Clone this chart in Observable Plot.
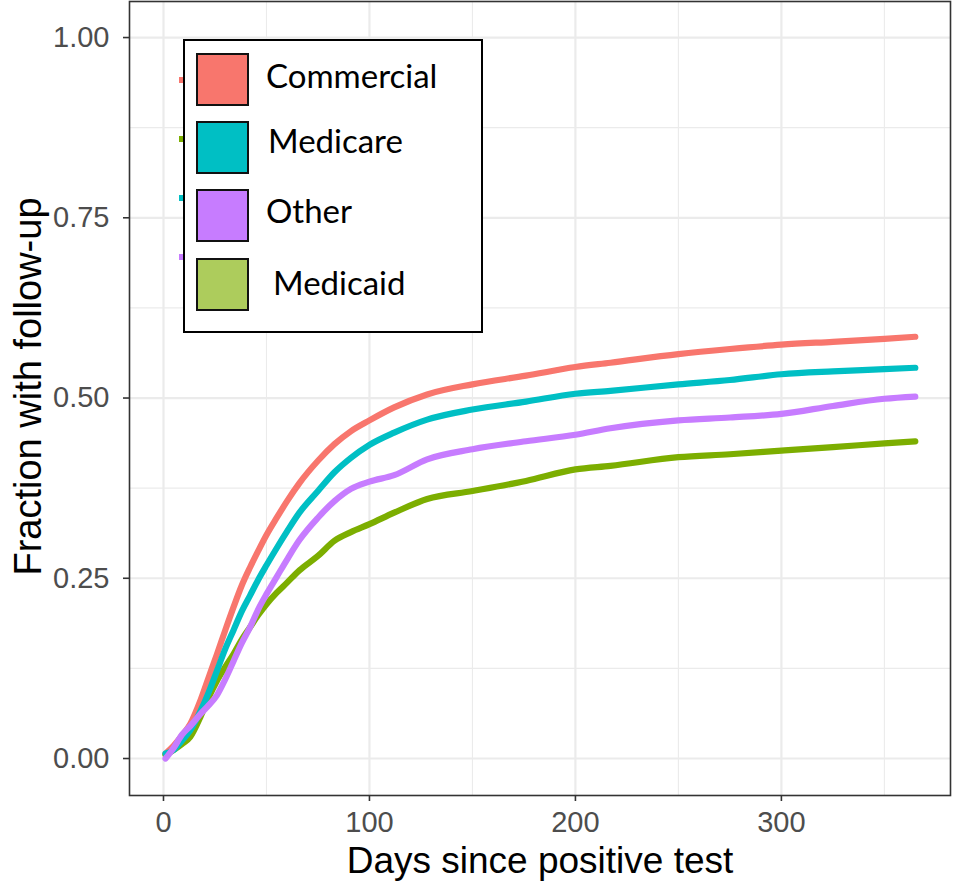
<!DOCTYPE html>
<html>
<head>
<meta charset="utf-8">
<script src="https://cdn.jsdelivr.net/npm/d3@7"></script>
<script src="https://cdn.jsdelivr.net/npm/@observablehq/plot@0.6"></script>
<style>
  html, body { margin: 0; padding: 0; background: #fff; }
  #wrap { position: relative; width: 954px; height: 886px; }
  #legend { position: absolute; left: 0; top: 0; pointer-events: none; }
</style>
</head>
<body>
<div id="wrap"></div>
<script>
// ---- data ----
const days = [1, 5, 9, 13, 18, 22, 26, 30, 34, 38, 42, 46, 50, 55, 60, 66, 75, 83, 91, 100, 112, 128, 150, 176, 200, 217, 250, 275, 300, 325, 350, 365];
const commercial = [0.007, 0.018, 0.032, 0.048, 0.081, 0.113, 0.145, 0.178, 0.210, 0.240, 0.265, 0.288, 0.310, 0.334, 0.357, 0.382, 0.413, 0.436, 0.454, 0.469, 0.487, 0.505, 0.519, 0.531, 0.543, 0.549, 0.561, 0.568, 0.574, 0.578, 0.582, 0.585];
const medicare   = [0.007, 0.012, 0.025, 0.039, 0.066, 0.092, 0.122, 0.152, 0.178, 0.204, 0.226, 0.248, 0.268, 0.292, 0.315, 0.341, 0.371, 0.397, 0.417, 0.435, 0.452, 0.470, 0.484, 0.495, 0.506, 0.510, 0.519, 0.525, 0.533, 0.537, 0.540, 0.542];
const other      = [0.000, 0.015, 0.033, 0.045, 0.062, 0.074, 0.088, 0.110, 0.135, 0.160, 0.182, 0.207, 0.228, 0.252, 0.276, 0.303, 0.334, 0.357, 0.374, 0.384, 0.393, 0.415, 0.429, 0.440, 0.449, 0.458, 0.469, 0.473, 0.478, 0.489, 0.499, 0.502];
const medicaid   = [0.005, 0.012, 0.020, 0.030, 0.058, 0.085, 0.108, 0.127, 0.145, 0.165, 0.182, 0.199, 0.214, 0.230, 0.244, 0.261, 0.281, 0.302, 0.314, 0.325, 0.341, 0.360, 0.371, 0.385, 0.401, 0.406, 0.418, 0.422, 0.427, 0.432, 0.437, 0.440];

const drawOrder    = ["Commercial", "Medicaid", "Medicare", "Other"];
const seriesColors = ["#F8766D", "#7CAE00", "#00BFC4", "#C77CFF"];
const legendOrder  = ["Commercial", "Medicare", "Other", "Medicaid"];
const legendFills  = ["#F8766D", "#00BFC4", "#C77CFF", "#ADCC5C"];

const xMajor = [0, 100, 200, 300];
const xMinor = [50, 150, 250, 350];
const yMajor = [0, 0.25, 0.5, 0.75, 1];
const yMinor = [0.125, 0.375, 0.625, 0.875];

const seriesValues = {Commercial: commercial, Medicaid: medicaid, Medicare: medicare, Other: other};
const rows = drawOrder.flatMap(g => days.map((d, i) => ({group: g, day: d, value: seriesValues[g][i]})));

const chart = Plot.plot({
  width: 954,
  height: 886,
  marginLeft: 129,
  marginRight: 4,
  marginTop: 1,
  marginBottom: 91,
  style: {fontFamily: "'Liberation Sans', Arial, sans-serif", fontSize: "29px", background: "#fff"},
  x: {domain: [-16.5, 382.1]},
  y: {domain: [-0.0513, 1.05]},
  color: {domain: drawOrder, range: seriesColors},
  marks: [
    Plot.gridX(xMinor, {stroke: "#ebebeb", strokeOpacity: 1, strokeWidth: 1.1}),
    Plot.gridY(yMinor, {stroke: "#ebebeb", strokeOpacity: 1, strokeWidth: 1.1}),
    Plot.gridX(xMajor, {stroke: "#ebebeb", strokeOpacity: 1, strokeWidth: 2.2}),
    Plot.gridY(yMajor, {stroke: "#ebebeb", strokeOpacity: 1, strokeWidth: 2.2}),
    Plot.line(rows, {x: "day", y: "value", z: "group", stroke: "group", strokeWidth: 6.2, curve: "monotone-x"}),
    Plot.frame({stroke: "#333", strokeWidth: 1.6}),
    Plot.axisX(xMajor, {tickSize: 6, tickPadding: 10, stroke: "#333", strokeWidth: 1.6, fill: "#4d4d4d", label: null, fontSize: 29}),
    Plot.axisY(yMajor, {tickSize: 6, tickPadding: 14, stroke: "#333", strokeWidth: 1.6, fill: "#4d4d4d", label: null, tickFormat: d3.format(".2f"), fontSize: 29}),
    Plot.text(["Days since positive test"], {frameAnchor: "bottom", textAnchor: "middle", dy: 77, fontSize: 37, fill: "#000"}),
    Plot.text(["Fraction with follow-up"], {frameAnchor: "left", textAnchor: "middle", dx: -101, dy: -12, rotate: -90, fontSize: 38, fill: "#000"})
  ]
});

const wrap = document.getElementById("wrap");
wrap.appendChild(chart);

// ---- overlaid legend ----
const leg = d3.select(wrap).append("svg")
  .attr("id", "legend").attr("width", 954).attr("height", 886);

// remnants of the underlying legend keys
const stubY = [80, 139, 198, 257];
leg.selectAll("rect.stub").data(drawOrder).join("rect")
  .attr("class", "stub")
  .attr("x", 179).attr("width", 5)
  .attr("y", (d, i) => stubY[i] - 3).attr("height", 6)
  .attr("fill", (d, i) => seriesColors[i]);

leg.append("rect")
  .attr("x", 184).attr("y", 40).attr("width", 298).attr("height", 292)
  .attr("fill", "#fff").attr("stroke", "#000").attr("stroke-width", 2);

const swTop = [54, 122, 190, 259];
const txtX = [266, 268, 266, 273];
const txtBase = [88, 153, 223, 295];
leg.selectAll("rect.sw").data(legendOrder).join("rect")
  .attr("class", "sw")
  .attr("x", 197).attr("y", (d, i) => swTop[i])
  .attr("width", 51).attr("height", 51)
  .attr("fill", (d, i) => legendFills[i])
  .attr("stroke", "#111").attr("stroke-width", 2);
leg.selectAll("text.lt").data(legendOrder).join("text")
  .attr("class", "lt")
  .attr("x", (d, i) => txtX[i]).attr("y", (d, i) => txtBase[i])
  .attr("font-family", "Lato, 'Open Sans', sans-serif")
  .attr("font-size", 33)
  .attr("fill", "#000")
  .text(d => d);
</script>
</body>
</html>
